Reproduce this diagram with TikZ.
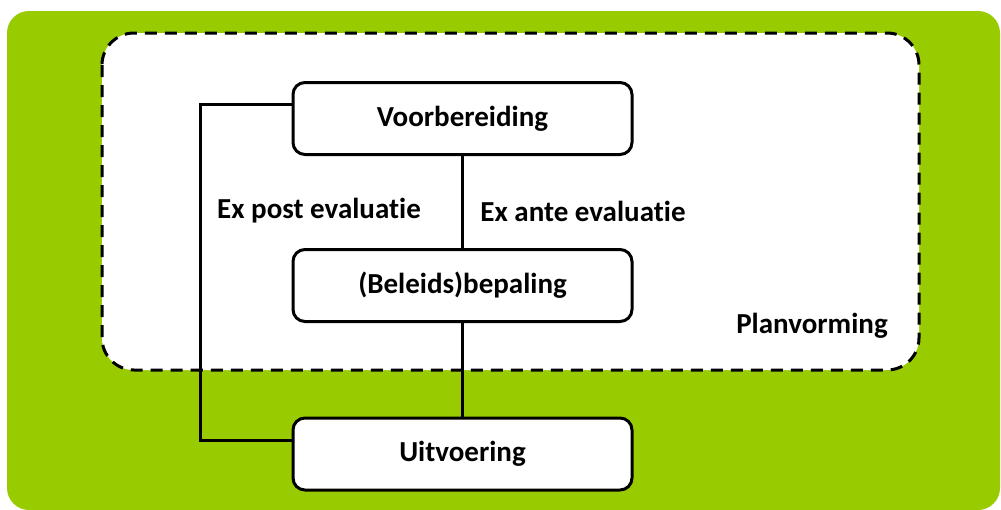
\documentclass[tikz,border=0pt]{standalone}
\usepackage{fontspec}
\setmainfont{Carlito}[Ligatures=NoCommon]
\begin{document}
\begin{tikzpicture}[x=1pt,y=-1pt,
  stepbox/.style={draw=black,line width=3pt,fill=white,rounded corners=12pt,
    minimum width=339pt,minimum height=72pt,inner sep=0pt,font=\fontsize{29}{34}\selectfont\bfseries},
  lbl/.style={font=\fontsize{29}{34}\selectfont\bfseries,inner sep=0pt},
  link/.style={line width=3pt}]
\useasboundingbox (0,0) rectangle (1001,509);
% green backdrop
\fill[fill={rgb,255:red,153;green,204;blue,0},rounded corners=22pt] (7,11) rectangle (1000,510);
% planning area
\draw[dashed,dash pattern=on 12pt off 8pt,line width=3pt,fill=white,rounded corners=32pt] (102,33) rectangle (919,370);
\node[stepbox] (v) at (462.5,118.5) {Voorbereiding};
\node[stepbox] (b) at (462.5,285.5) {(Beleids)bepaling};
\node[stepbox] (u) at (462.5,454) {Uitvoering};
\coordinate (t) at (200,104);
\coordinate (d) at (200,440);
\draw[link] (v) -- (b);
\draw[link] (b) -- (u);
\draw[link] (v.west |- t) -- (t) -- (d) -- (u.west |- d);
\node[lbl] (post) at (319,211) {Ex post evaluatie};
\node[lbl] (ante) at (583,211) {Ex ante evaluatie};
\node[lbl] (plan) at (812,326) {Planvorming};
\end{tikzpicture}
\end{document}
